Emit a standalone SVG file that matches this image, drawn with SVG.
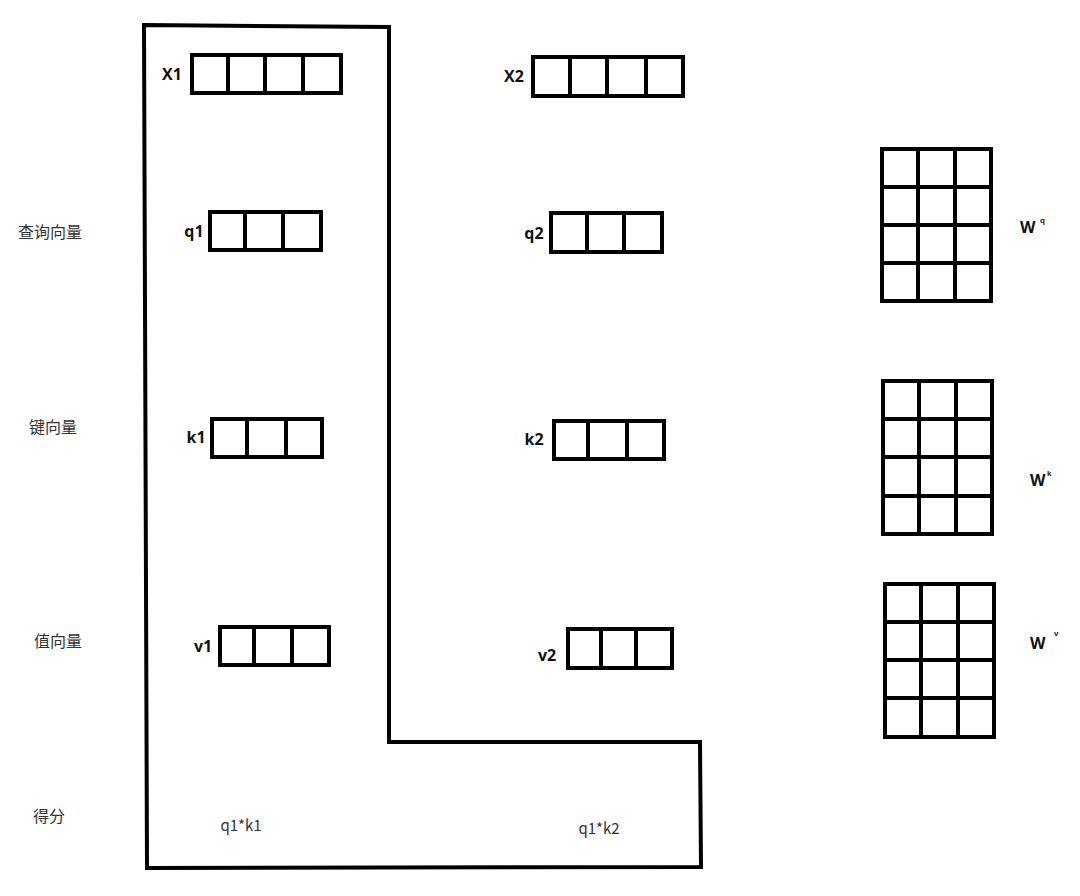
<svg xmlns="http://www.w3.org/2000/svg" width="1080" height="896" viewBox="0 0 1080 896">
<style>
.bx{fill:none;stroke:#000;stroke-width:4}
.ln{stroke:#000;stroke-width:4;fill:none}
.lb{font-family:"Open Sans","Liberation Sans",sans-serif;font-weight:bold;font-size:16px;fill:#111}
.cn{font-family:"Noto Sans CJK SC",sans-serif;font-size:16px;fill:#333}
.sm{font-family:"Noto Sans CJK SC","Liberation Sans",sans-serif;font-size:15px;fill:#333}
.sup{font-family:"Liberation Sans",sans-serif;font-weight:bold;font-size:8px;fill:#111}
</style>
<rect width="1080" height="896" fill="#fff"/>
<g id="connectors">
<path class="ln" d="M144,25 L389,27 L389,742 L700,742 L701,867 L147,868 Z" stroke-linejoin="miter"/>
</g>
<g id="row-labels">
<text class="cn" x="50" y="238" text-anchor="middle">查询向量</text>
<text class="cn" x="53" y="433" text-anchor="middle">键向量</text>
<text class="cn" x="58" y="647" text-anchor="middle">值向量</text>
<text class="cn" x="49" y="822" text-anchor="middle">得分</text>
</g>
<g id="x1">
<rect class="bx" x="192" y="55" width="149" height="38"/>
<path class="ln" d="M228,55V93M265,55V93M303,55V93"/>
<text class="lb" x="172" y="80" text-anchor="middle">X1</text>
</g>
<g id="x2">
<rect class="bx" x="533" y="57" width="150" height="39"/>
<path class="ln" d="M570,57V96M607,57V96M646,57V96"/>
<text class="lb" x="514" y="82" text-anchor="middle">X2</text>
</g>
<g id="q1">
<rect class="bx" x="210" y="212" width="111" height="38"/>
<path class="ln" d="M245,212V250M283,212V250"/>
<text class="lb" x="194" y="237" text-anchor="middle">q1</text>
</g>
<g id="q2">
<rect class="bx" x="551" y="213" width="111" height="39"/>
<path class="ln" d="M587,213V252M624,213V252"/>
<text class="lb" x="534" y="239" text-anchor="middle">q2</text>
</g>
<g id="k1">
<rect class="bx" x="212" y="419" width="110" height="38"/>
<path class="ln" d="M247,419V457M286,419V457"/>
<text class="lb" x="196" y="443" text-anchor="middle">k1</text>
</g>
<g id="k2">
<rect class="bx" x="554" y="421" width="110" height="38"/>
<path class="ln" d="M588,421V459M627,421V459"/>
<text class="lb" x="534" y="445" text-anchor="middle">k2</text>
</g>
<g id="v1">
<rect class="bx" x="220" y="627" width="109" height="38"/>
<path class="ln" d="M254,627V665M292,627V665"/>
<text class="lb" x="203" y="652" text-anchor="middle">v1</text>
</g>
<g id="v2">
<rect class="bx" x="568" y="629" width="104" height="39"/>
<path class="ln" d="M601,629V668M636,629V668"/>
<text class="lb" x="547" y="661" text-anchor="middle">v2</text>
</g>
<g id="wq">
<rect class="bx" x="882" y="149" width="109" height="152"/>
<path class="ln" d="M918,149V301M955,149V301M882,187H991M882,225H991M882,263H991"/>
<text class="lb" x="1020" y="233">W</text><text class="sup" x="1040" y="223">q</text>
</g>
<g id="wk">
<rect class="bx" x="883" y="381" width="109" height="153"/>
<path class="ln" d="M919,381V534M956,381V534M883,419H992M883,457H992M883,496H992"/>
<text class="lb" x="1030" y="486">W</text><text class="sup" x="1047" y="476">k</text>
</g>
<g id="wv">
<rect class="bx" x="885" y="584" width="109" height="153"/>
<path class="ln" d="M921,584V737M958,584V737M885,622H994M885,660H994M885,698H994"/>
<text class="lb" x="1030" y="649">W</text><text class="sup" x="1054" y="636">v</text>
</g>
<g id="scores">
<text class="sm" x="241" y="831" text-anchor="middle">q1*k1</text>
<text class="sm" x="599" y="834" text-anchor="middle">q1*k2</text>
</g>
</svg>
